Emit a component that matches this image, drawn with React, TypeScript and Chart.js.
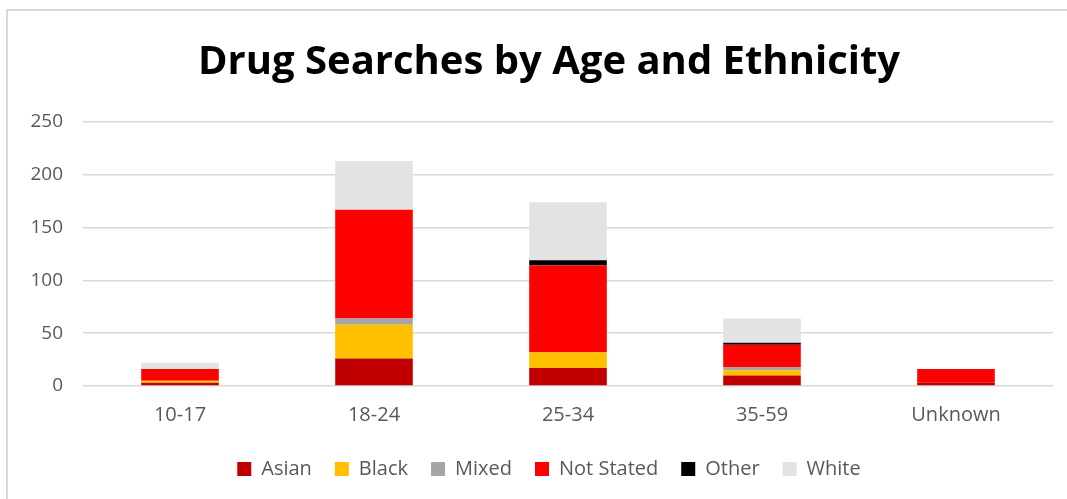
import React, { useEffect, useRef } from "react";
import { Chart, registerables } from "chart.js";

Chart.register(...registerables);

const categories = ["10-17", "18-24", "25-34", "35-59", "Unknown"];
const asian = [3, 26, 17, 10, 3];
const black = [2, 32, 15, 5, 0];
const mixed = [0, 6, 0, 3, 0];
const notStated = [11, 103, 82, 21, 13];
const other = [0, 0, 5, 2, 0];
const white = [6, 46, 55, 23, 0];
const yTicks = [0, 50, 100, 150, 200, 250];

const FONT = "'Open Sans', 'Noto Sans', sans-serif";

const frame = {
  id: "frame",
  afterLayout(chart: any) {
    const y = chart.scales.y;
    if (y) {
      y.left = 0;
    }
  },
  beforeDraw(chart: any) {
    const c = chart.ctx;
    c.save();
    c.fillStyle = "#FFFFFF";
    c.fillRect(0, 0, chart.width, chart.height);
    c.strokeStyle = "#D9D9D9";
    c.lineWidth = 2;
    c.beginPath();
    c.moveTo(7, chart.height);
    c.lineTo(7, 10);
    c.lineTo(chart.width, 10);
    c.stroke();
    c.restore();
  },
};

export default function App() {
  const ref = useRef<HTMLCanvasElement | null>(null);

  useEffect(() => {
    document.body.style.margin = "0";
    document.body.style.overflow = "hidden";
    document.documentElement.style.overflow = "hidden";
    const ctx = ref.current;
    if (!ctx) return;
    const chart = new Chart(ctx, {
      type: "bar",
      data: {
        labels: categories,
        datasets: [
          { label: "Asian", data: asian, backgroundColor: "#C00000" },
          { label: "Black", data: black, backgroundColor: "#FFC000" },
          { label: "Mixed", data: mixed, backgroundColor: "#A5A5A5" },
          { label: "Not Stated", data: notStated, backgroundColor: "#FF0000" },
          { label: "Other", data: other, backgroundColor: "#000000" },
          { label: "White", data: white, backgroundColor: "#E3E3E3" },
        ].map((d) => ({ ...d, barPercentage: 0.4, categoryPercentage: 1, borderWidth: 0 })),
      },
      options: {
        responsive: false,
        animation: false,
        maintainAspectRatio: false,
        layout: { padding: { left: 45, right: 14, top: 10, bottom: 10 } },
        plugins: {
          title: {
            display: true,
            text: "Drug Searches by Age and Ethnicity",
            color: "#000000",
            font: { family: FONT, size: 40, weight: "bold" },
            padding: { top: 29, bottom: 35 },
          },
          legend: {
            position: "bottom",
            labels: {
              boxWidth: 14,
              boxHeight: 14,
              color: "#595959",
              font: { family: FONT, size: 20 },
              padding: 23,
            },
          },
          tooltip: { enabled: false },
        },
        scales: {
          x: {
            stacked: true,
            grid: { display: false, drawTicks: false },
            border: { display: false },
            ticks: { color: "#595959", font: { family: FONT, size: 20 }, padding: 17 },
            afterFit: (axis: any) => {
              axis.height = 50;
            },
          },
          y: {
            stacked: true,
            min: 0,
            max: 250,
            afterBuildTicks: (axis: any) => {
              axis.ticks = yTicks.map((v) => ({ value: v }));
            },
            afterFit: (axis: any) => {
              axis.width = 38;
            },
            grid: { color: "#D9D9D9", lineWidth: 1.5, drawTicks: false },
            border: { display: false },
            ticks: { color: "#595959", font: { family: FONT, size: 19 }, padding: 20 },
          },
        },
      },
      plugins: [frame],
    });
    return () => chart.destroy();
  }, []);

  return (
    <div style={{ width: 1067, height: 499, overflow: "hidden" }}>
      <canvas ref={ref} width={1067} height={499} style={{ display: "block" }} />
    </div>
  );
}
